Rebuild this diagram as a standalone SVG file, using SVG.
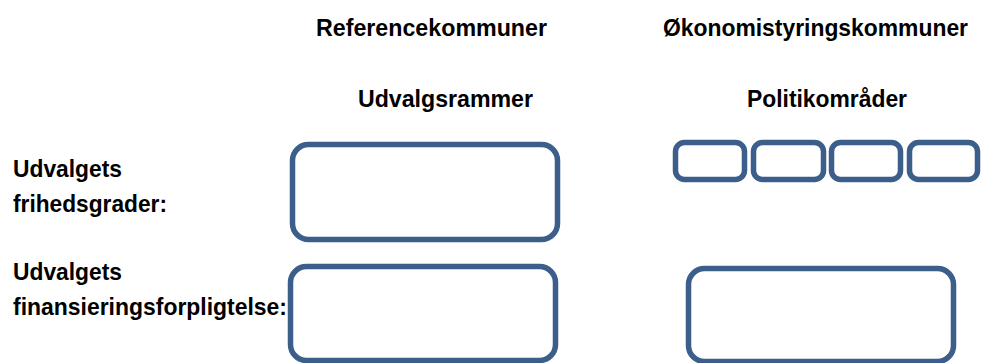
<svg xmlns="http://www.w3.org/2000/svg" width="981" height="363" viewBox="0 0 981 363">
<style>
  text { font-family: "Liberation Sans", Arial, sans-serif; font-weight: bold; font-size: 24px; fill: #000; }
  .box { fill: #fff; stroke: #3b5e8b; stroke-width: 5.5; }
</style>
<rect width="981" height="363" fill="#fff"/>
<g id="headers">
  <text x="316" y="36" textLength="231" lengthAdjust="spacingAndGlyphs">Referencekommuner</text>
  <text x="663" y="36" textLength="305" lengthAdjust="spacingAndGlyphs">Økonomistyringskommuner</text>
  <text x="358" y="107" textLength="175" lengthAdjust="spacingAndGlyphs">Udvalgsrammer</text>
  <text x="747" y="107" textLength="160" lengthAdjust="spacingAndGlyphs">Politikområder</text>
</g>
<g id="row-labels">
  <text x="13" y="177" textLength="109" lengthAdjust="spacingAndGlyphs">Udvalgets</text>
  <text x="13" y="212" textLength="154" lengthAdjust="spacingAndGlyphs">frihedsgrader:</text>
  <text x="13" y="280" textLength="109" lengthAdjust="spacingAndGlyphs">Udvalgets</text>
  <text x="13" y="315" textLength="274" lengthAdjust="spacingAndGlyphs">finansieringsforpligtelse:</text>
</g>
<g id="udvalgsramme-frihed"><rect class="box" x="292.5" y="144.5" width="265" height="95" rx="16"/></g>
<g id="udvalgsramme-finansiering"><rect class="box" x="290.5" y="266.5" width="265" height="94" rx="16"/></g>
<g id="politikomraade-1"><rect class="box" x="675.5" y="142.5" width="69" height="37" rx="9"/></g>
<g id="politikomraade-2"><rect class="box" x="753.5" y="142.5" width="70" height="37" rx="9"/></g>
<g id="politikomraade-3"><rect class="box" x="831.5" y="142.5" width="69" height="37" rx="9"/></g>
<g id="politikomraade-4"><rect class="box" x="909.5" y="142.5" width="68" height="37" rx="9"/></g>
<g id="politikomraade-finansiering"><rect class="box" x="688.5" y="268.5" width="265" height="93" rx="16"/></g>
<g id="connectors"></g>
</svg>
